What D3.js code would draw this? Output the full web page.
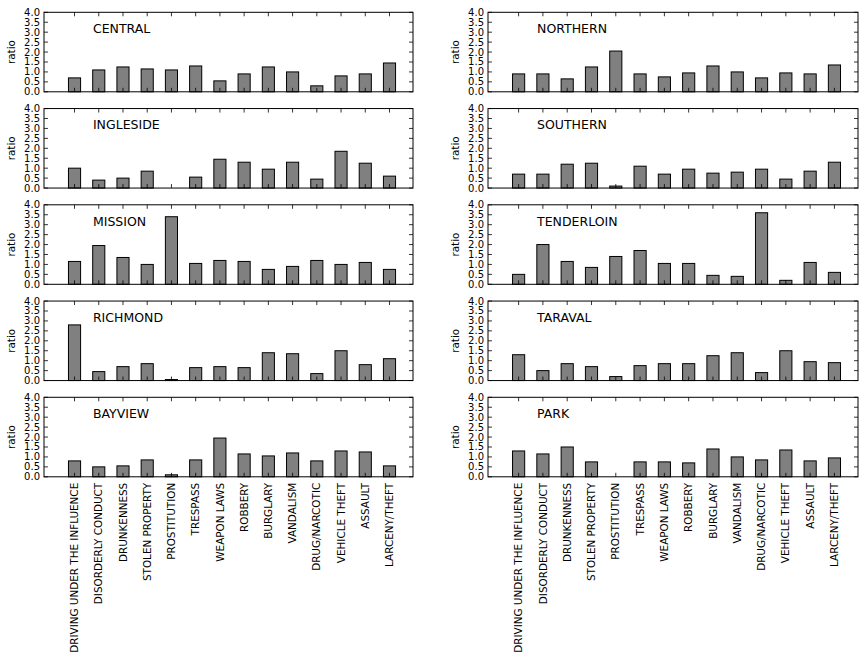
<!DOCTYPE html>
<html>
<head>
<meta charset="utf-8">
<script src="https://cdn.jsdelivr.net/npm/d3@7"></script>
<style>
  html, body { margin: 0; padding: 0; background: #fff; }
  svg { display: block; font-family: "DejaVu Sans", sans-serif; }
</style>
</head>
<body>
<svg id="chart" width="864" height="658"></svg>
<script>
const categories = ["DRIVING UNDER THE INFLUENCE", "DISORDERLY CONDUCT", "DRUNKENNESS",
  "STOLEN PROPERTY", "PROSTITUTION", "TRESPASS", "WEAPON LAWS", "ROBBERY", "BURGLARY",
  "VANDALISM", "DRUG/NARCOTIC", "VEHICLE THEFT", "ASSAULT", "LARCENY/THEFT"];

const central    = [0.70, 1.10, 1.25, 1.15, 1.10, 1.30, 0.55, 0.90, 1.25, 1.00, 0.30, 0.80, 0.90, 1.45];
const northern   = [0.90, 0.90, 0.65, 1.25, 2.05, 0.90, 0.75, 0.95, 1.30, 1.00, 0.70, 0.95, 0.90, 1.35];
const ingleside  = [1.00, 0.40, 0.50, 0.85, 0.00, 0.55, 1.45, 1.30, 0.95, 1.30, 0.45, 1.85, 1.25, 0.60];
const southern   = [0.70, 0.70, 1.20, 1.25, 0.10, 1.10, 0.70, 0.95, 0.75, 0.80, 0.95, 0.45, 0.85, 1.30];
const mission    = [1.15, 1.95, 1.35, 1.00, 3.40, 1.05, 1.20, 1.15, 0.75, 0.90, 1.20, 1.00, 1.10, 0.75];
const tenderloin = [0.50, 2.00, 1.15, 0.85, 1.40, 1.70, 1.05, 1.05, 0.45, 0.40, 3.60, 0.20, 1.10, 0.60];
const richmond   = [2.80, 0.45, 0.70, 0.85, 0.05, 0.65, 0.70, 0.65, 1.40, 1.35, 0.35, 1.50, 0.80, 1.10];
const taraval    = [1.30, 0.50, 0.85, 0.70, 0.20, 0.75, 0.85, 0.85, 1.25, 1.40, 0.40, 1.50, 0.95, 0.90];
const bayview    = [0.80, 0.50, 0.55, 0.85, 0.10, 0.85, 1.95, 1.15, 1.05, 1.20, 0.80, 1.30, 1.25, 0.55];
const park       = [1.30, 1.15, 1.50, 0.75, 0.00, 0.75, 0.75, 0.70, 1.40, 1.00, 0.85, 1.35, 0.80, 0.95];

const districts = ["CENTRAL", "NORTHERN", "INGLESIDE", "SOUTHERN", "MISSION",
  "TENDERLOIN", "RICHMOND", "TARAVAL", "BAYVIEW", "PARK"];
const seriesValues = [central, northern, ingleside, southern, mission,
  tenderloin, richmond, taraval, bayview, park];

const yTicks = [0, 0.5, 1.0, 1.5, 2.0, 2.5, 3.0, 3.5, 4.0];

const svg = d3.select("#chart");
svg.append("rect").attr("width", 864).attr("height", 658).attr("fill", "#fff");

const colX = [[44, 413], [488, 858]];
const rowTop = 12.3, rowStep = 96.25, panelH = 79.5;

districts.forEach((name, k) => {
  const col = k % 2, row = Math.floor(k / 2);
  const [x0, x1] = colX[col];
  const top = rowTop + row * rowStep, bottom = top + panelH;
  const x = d3.scaleLinear().domain([-1.26, 13.97]).range([x0, x1]);
  const y = d3.scaleLinear().domain([0, 4]).range([bottom, top]);
  const g = svg.append("g");
  const vals = seriesValues[k];

  // bars
  g.selectAll("rect.bar").data(vals).enter().append("rect")
    .attr("class", "bar")
    .attr("x", (d, i) => x(i - 0.25))
    .attr("width", (d, i) => x(i + 0.25) - x(i - 0.25))
    .attr("y", d => y(d))
    .attr("height", d => y(0) - y(d))
    .attr("fill", "#808080")
    .attr("stroke", "#000")
    .attr("stroke-width", 1);

  // ticks (inward, all four sides)
  const tl = 4;
  yTicks.forEach(t => {
    g.append("line").attr("x1", x0).attr("x2", x0 + tl).attr("y1", y(t)).attr("y2", y(t))
      .attr("stroke", "#000").attr("stroke-width", 0.8);
    g.append("line").attr("x1", x1).attr("x2", x1 - tl).attr("y1", y(t)).attr("y2", y(t))
      .attr("stroke", "#000").attr("stroke-width", 0.8);
    g.append("text").attr("x", x0 - 4).attr("y", y(t)).attr("dy", "0.35em")
      .attr("text-anchor", "end").attr("font-size", 10).text(t.toFixed(1));
  });
  categories.forEach((c, i) => {
    g.append("line").attr("x1", x(i)).attr("x2", x(i)).attr("y1", top).attr("y2", top + tl)
      .attr("stroke", "#000").attr("stroke-width", 0.8);
    g.append("line").attr("x1", x(i)).attr("x2", x(i)).attr("y1", bottom).attr("y2", bottom - tl)
      .attr("stroke", "#000").attr("stroke-width", 0.8);
  });

  // frame
  g.append("rect").attr("x", x0).attr("y", top).attr("width", x1 - x0).attr("height", panelH)
    .attr("fill", "none").attr("stroke", "#000").attr("stroke-width", 1);

  // y label
  g.append("text")
    .attr("transform", `translate(${x0 - 29},${(top + bottom) / 2}) rotate(-90)`)
    .attr("text-anchor", "middle").attr("font-size", 10.4).text("ratio");

  // district name
  g.append("text").attr("x", x(0.76)).attr("y", y(3.0) + 1)
    .attr("font-size", 12.5).text(name);

  // category labels on bottom row
  if (row === 4) {
    categories.forEach((c, i) => {
      g.append("text")
        .attr("transform", `translate(${x(i)},${bottom + 6}) rotate(-90)`)
        .attr("text-anchor", "end").attr("dy", "0.35em")
        .attr("font-size", 10.4).text(c);
    });
  }
});
</script>
</body>
</html>
